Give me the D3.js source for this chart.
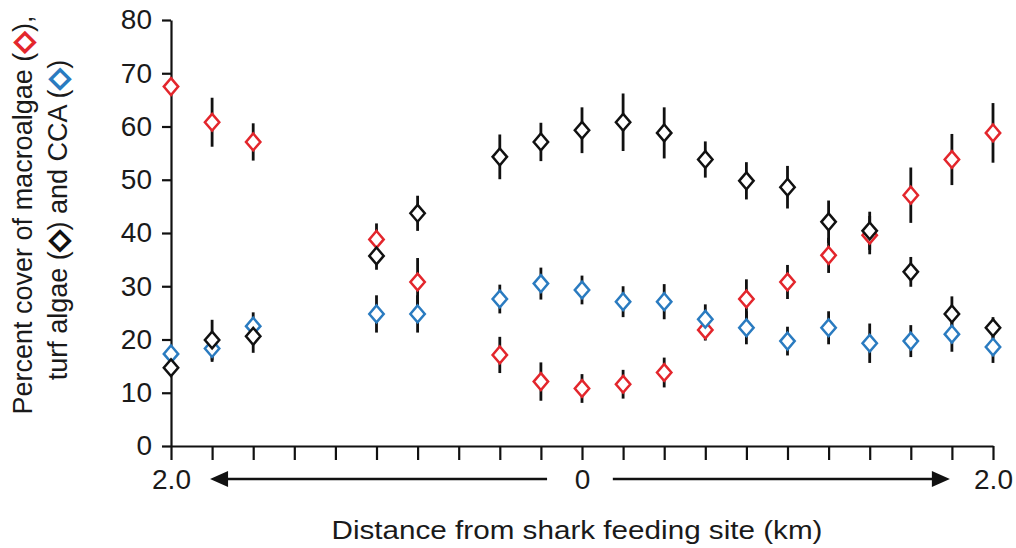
<!DOCTYPE html>
<html><head><meta charset="utf-8">
<script src="https://cdn.jsdelivr.net/npm/d3@7"></script>
<style>
html,body{margin:0;padding:0;background:#fff;}
svg text{font-family:"Liberation Sans",Arial,sans-serif;fill:#1a1a1a;}
</style></head>
<body><svg id="c" width="1016" height="548"></svg>
<script>
// ---- data ----
const positions = [0,1,2,5,6,8,9,10,11,12,13,14,15,16,17,18,19,20];
const macroalgae = [67.5,60.8,57.1,38.8,30.8,17.1,12.1,10.8,11.6,13.8,21.8,27.6,30.8,35.8,39.6,47.1,53.8,58.8];
const macroalgaeErr = [1,4.6,3.5,3,4.5,3.4,3.6,2.7,2.7,2.8,2,3.7,3.2,3.3,3.6,5.2,4.8,5.6];
const turf = [14.7,19.9,20.6,35.7,43.7,54.3,57.1,59.3,60.8,58.8,53.8,49.8,48.6,42.1,40.4,32.7,24.8,22.2];
const turfErr = [1,3.8,3.1,2.6,3.3,4.2,3.6,4.3,5.4,4.8,3.4,3.5,4,4,3.6,2.8,3.3,2];
const cca = [17.3,18.3,22.5,24.8,24.8,27.6,30.5,29.3,27.1,27.1,23.8,22.2,19.7,22.2,19.3,19.7,21,18.6];
const ccaErr = [1,2.5,2.6,3.5,3.5,2.7,3,2.7,2.9,3.3,2.8,3.1,2.7,3.1,3.7,3,3.3,3];
const xTickLabels = {0:"2.0",10:"0",20:"2.0"};
const yTicks = [0,10,20,30,40,50,60,70,80];

const RED="#e3262c", BLUE="#2a7bc0", BLACK="#111";

const svg = d3.select("#c");
const x = d3.scaleLinear().domain([0,20]).range([171,993]);
const y = d3.scaleLinear().domain([0,80]).range([446,20]);

// axes
const yAxis = d3.axisLeft(y).tickValues(yTicks).tickSize(9).tickSizeOuter(0).tickPadding(10);
const gy = svg.append("g").attr("transform",`translate(${x(0)},0)`).call(yAxis);
gy.selectAll("text").style("font-size","28px").attr("fill","#1a1a1a");
const xAxis = d3.axisBottom(x).tickValues(d3.range(0,21)).tickSize(14).tickSizeOuter(0)
  .tickPadding(9).tickFormat(d=>xTickLabels[d]||"");
const gx = svg.append("g").attr("transform",`translate(0,${y(0)})`).call(xAxis);
gx.selectAll("text").style("font-size","28px").attr("fill","#1a1a1a");
svg.selectAll(".domain, .tick line").attr("stroke","#111").attr("stroke-width",2.2);

// arrows
const ay = 479;
function arrow(x1,x2){
  const dir = Math.sign(x2-x1);
  svg.append("line").attr("x1",x1).attr("x2",x2-dir*10).attr("y1",ay).attr("y2",ay)
    .attr("stroke","#111").attr("stroke-width",2.4);
  svg.append("path").attr("d",`M${x2},${ay}L${x2-dir*18},${ay-8}L${x2-dir*18},${ay+8}Z`).attr("fill","#111");
}
arrow(x(9.15), x(0.95));
arrow(x(10.75), x(18.95));

// x title
svg.append("text").attr("x",577).attr("y",539).attr("text-anchor","middle")
  .attr("textLength",491).attr("lengthAdjust","spacingAndGlyphs")
  .style("font-size","25px").text("Distance from shark feeding site (km)");

// y title
const yt = svg.append("g");
const l1 = yt.append("text").attr("transform","translate(32,215) rotate(-90)").attr("text-anchor","middle").style("font-size","27px");
l1.append("tspan").text("Percent cover of macroalgae (");
l1.append("tspan").text("◇").style("font-family","DejaVu Sans").attr("fill",RED).attr("stroke",RED).attr("stroke-width",2).style("font-weight","bold");
l1.append("tspan").text("),");
const l2 = yt.append("text").attr("transform","translate(67,220) rotate(-90)").attr("text-anchor","middle").style("font-size","27px");
l2.append("tspan").text("turf algae (");
l2.append("tspan").text("◇").style("font-family","DejaVu Sans").attr("fill",BLACK).attr("stroke",BLACK).attr("stroke-width",2).style("font-weight","bold");
l2.append("tspan").text(") and CCA (");
l2.append("tspan").text("◇").style("font-family","DejaVu Sans").attr("fill",BLUE).attr("stroke",BLUE).attr("stroke-width",2).style("font-weight","bold");
l2.append("tspan").text(")");

// series
const series = [
  {vals:macroalgae, err:macroalgaeErr, color:RED},
  {vals:cca, err:ccaErr, color:BLUE},
  {vals:turf, err:turfErr, color:BLACK}
];
const bars = svg.append("g");
series.forEach(s=>{
  bars.selectAll(null).data(positions.map((p,i)=>({p,v:s.vals[i],e:s.err[i]}))).enter()
    .append("line").attr("x1",d=>x(d.p)).attr("x2",d=>x(d.p))
    .attr("y1",d=>y(d.v+d.e)).attr("y2",d=>y(d.v-d.e))
    .attr("stroke","#111").attr("stroke-width",2.8);
});
const hw=7.2, hh=8.4;
series.forEach(s=>{
  svg.append("g").selectAll("path").data(positions.map((p,i)=>({p,v:s.vals[i]}))).enter()
    .append("path")
    .attr("d",d=>{const cx=x(d.p), cy=y(d.v);return `M${cx},${cy-hh}L${cx+hw},${cy}L${cx},${cy+hh}L${cx-hw},${cy}Z`;})
    .attr("fill","#fff").attr("stroke",s.color).attr("stroke-width",2.5);
});
</script></body></html>
